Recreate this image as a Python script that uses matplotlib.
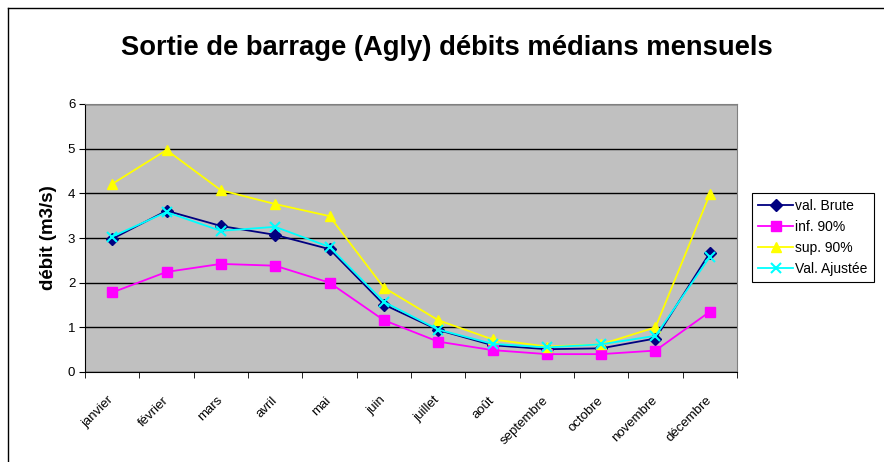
import matplotlib.pyplot as plt
from matplotlib.lines import Line2D
from matplotlib.ticker import FixedLocator
from matplotlib.transforms import ScaledTranslation

plt.rcParams['font.family'] = ['Liberation Sans', 'DejaVu Sans']

# Monthly data
mois = ["janvier", "février", "mars", "avril", "mai", "juin", "juillet",
        "août", "septembre", "octobre", "novembre", "décembre"]
val_brute = [2.98, 3.61, 3.27, 3.07, 2.75, 1.51, 0.94, 0.60, 0.51, 0.53, 0.75, 2.67]
inf_90 = [1.78, 2.24, 2.42, 2.38, 2.00, 1.16, 0.68, 0.49, 0.40, 0.40, 0.48, 1.35]
sup_90 = [4.21, 4.97, 4.07, 3.76, 3.49, 1.89, 1.16, 0.73, 0.57, 0.62, 1.00, 3.98]
val_ajustee = [3.03, 3.58, 3.16, 3.25, 2.80, 1.57, 0.95, 0.63, 0.55, 0.62, 0.81, 2.58]

fig = plt.figure(figsize=(8.84, 4.62), dpi=100)
ax = fig.add_axes([85 / 884, 1 - 372 / 462, (737 - 85) / 884, (372 - 104) / 462])
ax.set_facecolor("#C0C0C0")

x = range(len(mois))
ax.plot(x, val_brute, color="#000080", marker="D", markersize=6, lw=1.3, label="val. Brute", zorder=3)
ax.plot(x, inf_90, color="#FF00FF", marker="s", markersize=7, lw=1.3, label="inf. 90%", zorder=3)
ax.plot(x, sup_90, color="#FFFF00", marker="^", markersize=7.5, lw=1.3, label="sup. 90%", zorder=3)
ax.plot(x, val_ajustee, color="#00FFFF", marker="x", markersize=7, mew=1.5, lw=1.3, label="Val. Ajustée", zorder=4)

ax.set_xlim(-0.5, len(mois) - 0.5)
ax.set_ylim(0, 6)
ax.set_yticks(range(7))
ax.yaxis.grid(True, color="black", lw=1)
ax.set_axisbelow(True)

ax.set_xticks(list(x))
ax.set_xticklabels(mois, rotation=45, ha="right", va="center", rotation_mode="anchor", fontsize=9.5)
shift = ScaledTranslation(-4 / 100, 0, fig.dpi_scale_trans)
for lbl in ax.get_xticklabels():
    lbl.set_transform(lbl.get_transform() + shift)
ax.xaxis.set_minor_locator(FixedLocator([i - 0.5 for i in range(len(mois) + 1)]))
ax.tick_params(axis="x", which="major", length=0, pad=19)
ax.tick_params(axis="x", which="minor", length=4, color="black")
ax.tick_params(axis="y", labelsize=9.5, length=4, pad=3)

for s in ["top", "right"]:
    ax.spines[s].set_color("#808080")
for s in ["left", "bottom"]:
    ax.spines[s].set_color("black")

ax.set_ylabel("débit (m3/s)", fontsize=13.5, fontweight="bold", labelpad=8)
fig.text(447 / 884, 1 - 48 / 462, "Sortie de barrage (Agly) débits médians mensuels",
         ha="center", va="center", fontsize=19.7, fontweight="bold")

# outer chart border (left and top visible)
fig.add_artist(Line2D([8 / 884, 8 / 884], [0, 1 - 8 / 462], color="black", lw=1))
fig.add_artist(Line2D([8 / 884, 1], [1 - 8 / 462, 1 - 8 / 462], color="black", lw=1))

leg = fig.legend(loc="upper left", bbox_to_anchor=(752 / 884, 1 - 193 / 462), fontsize=10,
                 frameon=True, fancybox=False, edgecolor="black", framealpha=1,
                 handlelength=2.5, borderpad=0.45, labelspacing=0.5, handletextpad=0.15,
                 borderaxespad=0)
leg.get_frame().set_linewidth(0.8)

fig.savefig("out.png", dpi=100)
